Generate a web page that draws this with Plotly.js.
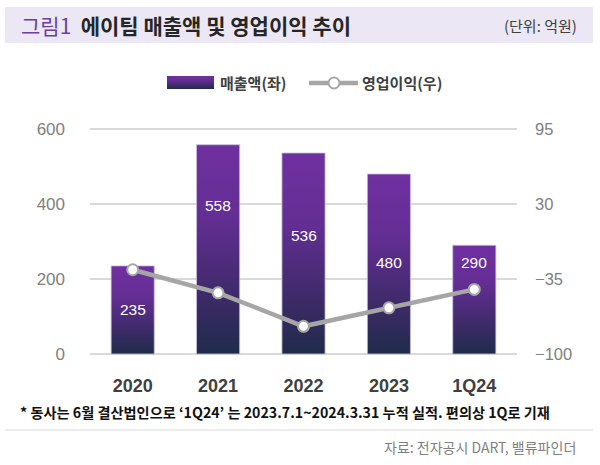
<!DOCTYPE html>
<html><head><meta charset="utf-8">
<script src="https://cdn.plot.ly/plotly-3.0.1.min.js"></script>
<style>html,body{margin:0;padding:0;background:#fff;}#chart{width:600px;height:465px;}</style>
</head><body><div id="chart"></div>
<script>
// ---- data ----
const categories = ['2020', '2021', '2022', '2023', '1Q24'];
const revenue = [235, 558, 536, 480, 290];          // 매출액 (억원), left axis
const operatingProfit = [-27, -47, -76, -60, -44];  // 영업이익 (억원), right axis
const leftTicks = [0, 200, 400, 600];
const rightTicks = [-100, -35, 30, 95];

// ---- layout helpers ----
const L = 90, R = 517, T = 129, B = 354;   // where the tick range sits (px)
const EDGE = 3;                              // extra px so edge gridlines are kept
const PT = T - EDGE, PB = B + EDGE;          // actual plot area
const px = x => (x - L) / (R - L);
const py = y => (PB - y) / (PB - PT);
const labelFrac = [0.5, 0.71, 0.59, 0.51, 0.84]; // label placement inside bars (style)
const idx = categories.map((c, i) => i);
const lPerPx = (600 - 0) / (B - T), rPerPx = (95 - (-100)) / (B - T);

const korean = '"Noto Sans CJK KR", "Noto Sans", sans-serif';
const latin = '"Liberation Sans", Arial, "Noto Sans CJK KR", sans-serif';

const bars = {
  type: 'bar', x: idx, y: revenue, yaxis: 'y', name: '매출액(좌)', width: 0.505,
  marker: {color: '#5a2d8a', line: {color: '#c9bde0', width: 0.8}},
  hoverinfo: 'none', showlegend: false
};
const line = {
  type: 'scatter', mode: 'lines+markers', x: idx, y: operatingProfit, yaxis: 'y2', name: '영업이익(우)',
  line: {color: '#a6a6a6', width: 4.5},
  marker: {size: 11, color: '#ffffff', line: {color: '#a6a6a6', width: 2}},
  hoverinfo: 'none', showlegend: false
};

const annotations = revenue.map((v, i) => ({
  x: idx[i], y: v * labelFrac[i], xref: 'x', yref: 'y', text: String(v), showarrow: false,
  font: {family: latin, size: 15.5, color: '#ffffff'}
}));
annotations.push(
  {xref: 'paper', yref: 'paper', x: px(19), y: py(25), xanchor: 'left', yanchor: 'middle', showarrow: false,
   text: '<span style="color:#6a3fa0">그림1</span>  <b>에이팀 매출액 및 영업이익 추이</b>',
   font: {family: korean, size: 21, color: '#262626'}},
  {xref: 'paper', yref: 'paper', x: px(579), y: py(25), xanchor: 'right', yanchor: 'middle', showarrow: false,
   text: '(단위: 억원)', font: {family: korean, size: 15, color: '#404040'}},
  {xref: 'paper', yref: 'paper', x: px(218), y: py(82), xanchor: 'left', yanchor: 'middle', showarrow: false,
   text: '매출액(좌)', font: {family: korean, size: 15, color: '#404040', weight: 700}},
  {xref: 'paper', yref: 'paper', x: px(360), y: py(82), xanchor: 'left', yanchor: 'middle', showarrow: false,
   text: '영업이익(우)', font: {family: korean, size: 15, color: '#404040', weight: 700}},
  {xref: 'paper', yref: 'paper', x: px(18), y: py(412), xanchor: 'left', yanchor: 'middle', showarrow: false,
   text: '* 동사는 6월 결산법인으로 ‘1Q24’ 는 2023.7.1~2024.3.31 누적 실적. 편의상 1Q로 기재',
   font: {family: korean, size: 14.2, color: '#111111', weight: 700}},
  {xref: 'paper', yref: 'paper', x: px(578), y: py(447), xanchor: 'right', yanchor: 'middle', showarrow: false,
   text: '자료: 전자공시 DART, 밸류파인더', font: {family: korean, size: 14, color: '#7f7f7f'}}
);

const shapes = [
  {type: 'rect', xref: 'paper', yref: 'paper', x0: px(5), x1: px(593), y0: py(7), y1: py(43),
   fillcolor: '#ece7f4', line: {width: 0}, layer: 'below'},
  {type: 'rect', xref: 'paper', yref: 'paper', x0: px(167), x1: px(214), y0: py(76), y1: py(89),
   fillcolor: '#5a2d8a', line: {width: 0}, layer: 'above'},
  {type: 'line', xref: 'paper', yref: 'paper', x0: px(309), x1: px(358), y0: py(83), y1: py(83),
   line: {color: '#a6a6a6', width: 4.5}, layer: 'above'},
  {type: 'circle', xref: 'paper', yref: 'paper', x0: px(328.5), x1: px(339.5), y0: py(77.5), y1: py(88.5),
   fillcolor: '#ffffff', line: {color: '#a6a6a6', width: 2}, layer: 'above'},
  {type: 'line', xref: 'paper', yref: 'paper', x0: px(5), x1: px(593), y0: py(430), y1: py(430),
   line: {color: '#d9d9d9', width: 1}, layer: 'above'}
];

const layout = {
  width: 600, height: 465,
  margin: {l: L, r: 600 - R, t: PT, b: 465 - PB, pad: 0},
  paper_bgcolor: '#ffffff', plot_bgcolor: '#ffffff',
  showlegend: false,
  xaxis: {type: 'linear', range: [-0.5, 4.5], tickvals: idx, ticktext: categories,
          showgrid: false, showline: false, zeroline: false, ticks: '', ticklabelstandoff: 16,
          tickfont: {family: latin, size: 18, color: '#404040', weight: 700}},
  yaxis: {range: [0 - EDGE * lPerPx, 600 + EDGE * lPerPx], tickvals: leftTicks, showgrid: true,
          gridcolor: '#d9d9d9', gridwidth: 1.3,
          zeroline: false, showline: false, ticks: '', ticklabelstandoff: 24,
          tickfont: {family: latin, size: 17, color: '#808080'}},
  yaxis2: {range: [-100 - EDGE * rPerPx, 95 + EDGE * rPerPx], tickvals: rightTicks, overlaying: 'y', side: 'right',
           showgrid: false, zeroline: false, showline: false, ticks: '', ticklabelstandoff: 17,
           tickfont: {family: latin, size: 16.5, color: '#808080'}},
  annotations: annotations, shapes: shapes
};

function applyGradient() {
  const svg = document.querySelector('#chart .main-svg');
  if (!svg) return;
  let defs = svg.querySelector('defs');
  if (!defs) { defs = document.createElementNS('http://www.w3.org/2000/svg', 'defs'); svg.insertBefore(defs, svg.firstChild); }
  if (!svg.querySelector('#barGrad')) {
    const g = document.createElementNS('http://www.w3.org/2000/svg', 'linearGradient');
    g.setAttribute('id', 'barGrad'); g.setAttribute('x1', '0'); g.setAttribute('y1', '0');
    g.setAttribute('x2', '0'); g.setAttribute('y2', '1');
    [['0', '#7030a0'], ['0.35', '#632e93'], ['0.75', '#3b2a66'], ['1', '#1f2c4b']].forEach(([o, c]) => {
      const s = document.createElementNS('http://www.w3.org/2000/svg', 'stop');
      s.setAttribute('offset', o); s.setAttribute('stop-color', c); g.appendChild(s);
    });
    defs.appendChild(g);
  }
  document.querySelectorAll('#chart .bars path').forEach(p => { p.style.fill = 'url(#barGrad)'; });
  const legendRect = document.querySelector('#chart .layer-above .shapelayer path[data-index="1"]');
  if (legendRect) legendRect.style.fill = 'url(#barGrad)';
}

Plotly.newPlot('chart', [bars, line], layout, {displayModeBar: false, staticPlot: true}).then(gd => {
  applyGradient();
  gd.on('plotly_afterplot', applyGradient);
});
</script>
</body></html>
